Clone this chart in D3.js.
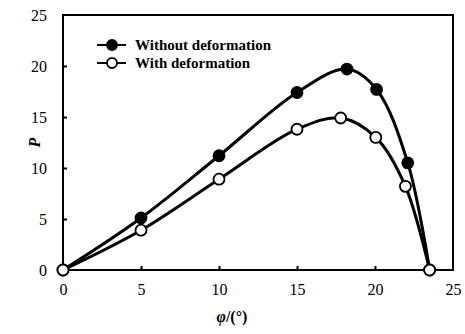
<!DOCTYPE html>
<html>
<head>
<meta charset="utf-8">
<script src="https://cdn.jsdelivr.net/npm/d3@7"></script>
<style>
  body { margin: 0; background: #fff; }
  svg text { font-family: "Liberation Serif", "DejaVu Serif", "Times New Roman", Times, serif !important; fill: #000; }
</style>
</head>
<body>
<script>
const width = 465;
const height = 334;

// data
const phiWithout = [0, 5, 10, 15, 18.2, 20.1, 22.1, 23.5];
const pWithout = [0, 5.1, 11.2, 17.4, 19.7, 17.7, 10.5, 0];
const phiWith = [0, 5, 10, 15, 17.8, 20.05, 21.95, 23.5];
const pWith = [0, 3.9, 8.9, 13.8, 14.9, 13.0, 8.2, 0];
const xTicks = [0, 5, 10, 15, 20, 25];
const yTicks = [0, 5, 10, 15, 20, 25];
const seriesNames = ["Without deformation", "With deformation"];

const margin = { left: 63, right: 12, top: 15, bottom: 64 };

const svg = d3
  .select("body")
  .append("svg")
  .attr("width", width)
  .attr("height", height);

const x = d3.scaleLinear().domain([0, 25]).range([margin.left, width - margin.right]);
const y = d3.scaleLinear().domain([0, 25]).range([height - margin.bottom, margin.top]);

// frame
svg
  .append("rect")
  .attr("x", x(0))
  .attr("y", y(25))
  .attr("width", x(25) - x(0))
  .attr("height", y(0) - y(25))
  .attr("fill", "none")
  .attr("stroke", "#000")
  .attr("stroke-width", 2);

const xAxis = svg
  .append("g")
  .attr("transform", `translate(0,${y(0)})`)
  .call(d3.axisBottom(x).tickValues(xTicks).tickSize(-4).tickPadding(14));
const yAxis = svg
  .append("g")
  .attr("transform", `translate(${x(0)},0)`)
  .call(d3.axisLeft(y).tickValues(yTicks).tickSize(-4).tickPadding(16));

[xAxis, yAxis].forEach(ax => {
  ax.attr("font-family", null);
  ax.select(".domain").remove();
  ax.selectAll("line").attr("stroke", "#000").attr("stroke-width", 2);
  ax.selectAll("text")
    .attr("font-size", 16)
    .attr("fill", "#000");
});
xAxis.selectAll(".tick").filter(d => d === 0 || d === 25).select("line").remove();
yAxis.selectAll(".tick").filter(d => d === 0 || d === 25).select("line").remove();

// axis titles
svg
  .append("text")
  .attr("x", 232)
  .attr("y", 322)
  .attr("text-anchor", "middle")
  .attr("font-size", 16)
  .attr("font-weight", "bold")
  .html('<tspan font-style="italic">φ</tspan>/(°)');

svg
  .append("text")
  .attr("transform", `translate(40,${(y(0) + y(25)) / 2}) rotate(-90)`)
  .attr("text-anchor", "middle")
  .attr("font-size", 16)
  .attr("font-weight", "bold")
  .attr("font-style", "italic")
  .text("P");

const line = d3
  .line()
  .x(d => x(d[0]))
  .y(d => y(d[1]))
  .curve(d3.curveCatmullRom.alpha(0.5));

const series = [
  { name: seriesNames[0], pts: d3.zip(phiWithout, pWithout), fill: "#000" },
  { name: seriesNames[1], pts: d3.zip(phiWith, pWith), fill: "#fff" }
];

series.forEach(s => {
  svg
    .append("path")
    .datum(s.pts)
    .attr("d", line)
    .attr("fill", "none")
    .attr("stroke", "#000")
    .attr("stroke-width", 3);
});

series.forEach(s => {
  svg
    .append("g")
    .selectAll("circle")
    .data(s.pts)
    .join("circle")
    .attr("cx", d => x(d[0]))
    .attr("cy", d => y(d[1]))
    .attr("r", 5.5)
    .attr("fill", s.fill)
    .attr("stroke", "#000")
    .attr("stroke-width", 1.8);
});

// legend
const legend = svg.append("g");
series.forEach((s, i) => {
  const ly = 45 + i * 18;
  legend
    .append("line")
    .attr("x1", 97)
    .attr("x2", 126)
    .attr("y1", ly)
    .attr("y2", ly)
    .attr("stroke", "#000")
    .attr("stroke-width", 2);
  legend
    .append("circle")
    .attr("cx", 112)
    .attr("cy", ly)
    .attr("r", 5)
    .attr("fill", s.fill)
    .attr("stroke", "#000")
    .attr("stroke-width", 1.8);
  legend
    .append("text")
    .attr("x", 135)
    .attr("y", ly + 5)
    .attr("font-size", 15)
    .attr("font-weight", "bold")
    .text(s.name);
});
</script>
</body>
</html>
